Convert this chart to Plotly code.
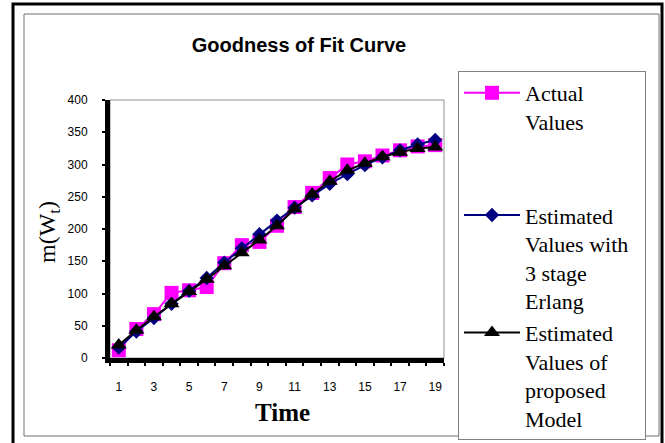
import plotly.graph_objects as go

time = list(range(1, 20))
actual = [12, 45, 68, 101, 105, 110, 147, 175, 180, 205, 234, 256, 279, 300, 305, 314, 322, 328, 330]
erlang = [16, 41, 62, 84, 104, 124, 148, 170, 192, 213, 233, 252, 270, 285, 299, 311, 322, 331, 338]
proposed = [20, 43, 64, 84, 103, 122, 143, 163, 183, 205, 231, 254, 274, 291, 302, 312, 319, 325, 327]
xtick_vals = [1, 3, 5, 7, 9, 11, 13, 15, 17, 19]

SERIF = "Liberation Serif"
SANS = "Liberation Sans"

fig = go.Figure()
fig.add_trace(go.Scatter(
    x=time, y=actual, mode="lines+markers", name="Actual<br>Values",
    legendgroup="a",
    line=dict(color="#FF00FF", width=2),
    marker=dict(symbol="square", size=14, color="#FF00FF"),
))
fig.add_trace(go.Scatter(
    x=time, y=erlang, mode="lines+markers",
    name="Estimated<br>Values with&nbsp;&nbsp;<br>3 stage<br>Erlang",
    legendgroup="b",
    line=dict(color="#000080", width=2),
    marker=dict(symbol="diamond", size=11, color="#000080"),
))
fig.add_trace(go.Scatter(
    x=time, y=proposed, mode="lines+markers", name="Estimated<br>Values of<br>proposed<br>Model",
    legendgroup="b",
    line=dict(color="#000000", width=2),
    marker=dict(symbol="triangle-up", size=14, color="#000000"),
))

L, R, T, B = 110, 444, 100, 358
W, H = 665, 443
def px(x):
    return (x - L) / (R - L)
def py(y):
    return (B - y) / (B - T)

shapes = [
    dict(type="rect", xref="paper", yref="paper", x0=px(13), x1=px(662), y0=py(450), y1=py(4),
         line=dict(color="black", width=3), layer="below"),
    dict(type="rect", xref="paper", yref="paper", x0=px(24), x1=px(659), y0=py(436), y1=py(14),
         line=dict(color="#707070", width=1), layer="below"),
    dict(type="rect", xref="paper", yref="paper", x0=0, x1=1, y0=0, y1=1,
         line=dict(color="#909090", width=1), layer="below"),
]

fig.update_layout(
    width=W, height=H,
    margin=dict(l=L, r=W - R, t=T, b=H - B),
    paper_bgcolor="white", plot_bgcolor="white",
    shapes=shapes,
    title=dict(text="<b>Goodness of Fit Curve</b>", x=(299) / W, xanchor="center",
               y=1 - 45 / H, yanchor="middle", font=dict(family=SANS, size=20, color="black")),
    showlegend=True,
    legend=dict(x=px(458), y=py(71), xanchor="left", yanchor="top",
                bordercolor="#808080", borderwidth=1, bgcolor="white",
                font=dict(family=SERIF, size=22, color="black"),
                valign="top", tracegroupgap=62, traceorder="grouped",
                itemwidth=56, maxheight=420),
    xaxis=dict(range=[0.5, 19.5], tickvals=xtick_vals, ticktext=[str(v) for v in xtick_vals],
               ticks="", showgrid=False, zeroline=False,
               showline=True, linecolor="black", linewidth=5,
               tickfont=dict(family=SANS, size=12, color="black"),
               ticklabelstandoff=14,
               minor=dict(tick0=0.5, dtick=1, ticks="outside", ticklen=3, tickwidth=2, tickcolor="black")),
    yaxis=dict(range=[0, 400], dtick=50, ticks="outside", ticklen=3, tickwidth=2, tickcolor="black",
               showgrid=False, zeroline=False, showline=True, linecolor="black", linewidth=5,
               tickfont=dict(family=SANS, size=12, color="black"), ticklabelstandoff=12),
    annotations=[
        dict(text="m(W<sub>t</sub>)", xref="paper", yref="paper", x=px(49), y=py(232),
             textangle=-90, showarrow=False, font=dict(family=SERIF, size=24, color="black"),
             xanchor="center", yanchor="middle"),
        dict(text="<b>Time</b>", xref="paper", yref="paper", x=px(282), y=py(412),
             showarrow=False, font=dict(family=SERIF, size=25, color="black"),
             xanchor="center", yanchor="middle"),
    ],
)

fig.write_html("out.html", config={"displayModeBar": False},
               post_script="document.body.style.margin='0';document.body.style.overflow='hidden';")
